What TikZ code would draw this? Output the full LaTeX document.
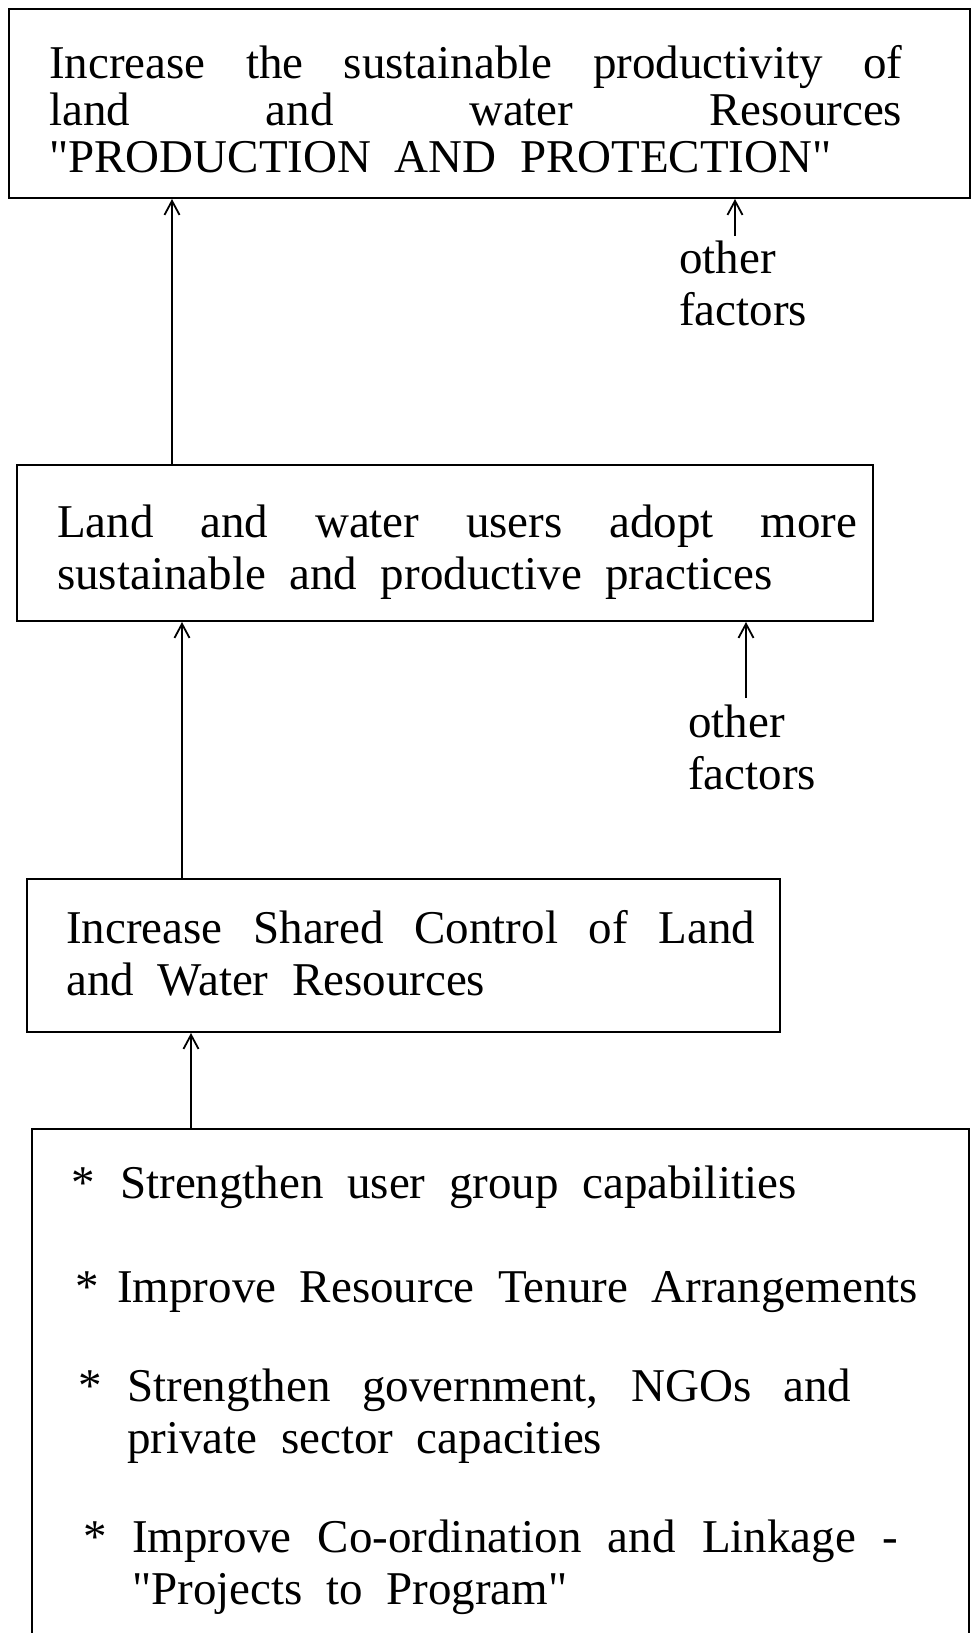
\documentclass[tikz,border=0pt]{standalone}
\usepackage{fontspec}
\setmainfont[WordSpace=2]{Liberation Serif}
\usetikzlibrary{arrows.meta, positioning, calc}

\begin{document}
\begin{tikzpicture}[x=1pt, y=-1pt,
    box/.style={rectangle, draw=black, line width=2pt, inner sep=0pt,
                anchor=north west},
    txt/.style={inner sep=0pt, anchor=base west, align=justify,
                font=\fontsize{47}{52}\selectfont},
    fac/.style={inner sep=0pt, anchor=base west, align=left,
                font=\fontsize{47}{52}\selectfont},
    arrow/.style={-{Straight Barb[length=14pt, width=15pt]}, line width=1.8pt}
  ]
    \useasboundingbox (0,0) rectangle (971,1633);

    % Boxes
    \node[box, minimum width=961, minimum height=189] (goal) at (8,8) {};
    \node[box, minimum width=856, minimum height=156] (users) at (16,464) {};
    \node[box, minimum width=753, minimum height=153] (control) at (26,878) {};
    \node[box, minimum width=937, minimum height=530] (actions) at (31,1128) {};

    % Box texts
    \node[txt, text width=853, font=\fontsize{47}{47}\selectfont] (goaltxt) at (49,78)
      {Increase the sustainable productivity of\linebreak
       land and water Resources\linebreak
       \textquotedbl PRODUCTION AND PROTECTION\textquotedbl};
    \node[txt, text width=800] (userstxt) at (57,537)
      {Land and water users adopt more\linebreak
       sustainable and productive practices};
    \node[txt, text width=689] (controltxt) at (66,943)
      {Increase Shared Control of Land\linebreak
       and Water Resources};

    % Actions list
    \node[txt] (act1) at (71,1198)
      {\makebox[49pt][l]{*}Strengthen user group capabilities};
    \node[txt] (act2) at (75,1302)
      {\makebox[42pt][l]{*}Improve Resource Tenure Arrangements};
    \node[txt, text width=773] (act3) at (78,1401)
      {\hangindent=49pt\hangafter=1\makebox[49pt][l]{*}Strengthen government, NGOs and\linebreak
       private sector capacities\par};
    \node[txt, text width=815] (act4) at (83,1552)
      {\hangindent=49pt\hangafter=1\makebox[49pt][l]{*}Improve Co-ordination and Linkage -\linebreak
       \textquotedbl Projects to Program\textquotedbl\par};

    % Other factors
    \node[fac] (fac1) at (679,325) {other\\factors};
    \node[fac] (fac2) at (688,789) {other\\factors};

    % Arrows
    \draw[arrow] ([xshift=156pt]users.north west) -- ([xshift=156pt]users.north west |- goal.south);
    \draw[arrow] ([xshift=156pt]control.north west) -- ([xshift=156pt]control.north west |- users.south);
    \draw[arrow] ([xshift=160pt]actions.north west) -- ([xshift=160pt]actions.north west |- control.south);
    \draw[arrow] ([xshift=56pt,yshift=4pt]fac1.north west) -- ([xshift=56pt]fac1.north west |- goal.south);
    \draw[arrow] ([xshift=58pt,yshift=6pt]fac2.north west) -- ([xshift=58pt]fac2.north west |- users.south);
  \end{tikzpicture}
\end{document}
